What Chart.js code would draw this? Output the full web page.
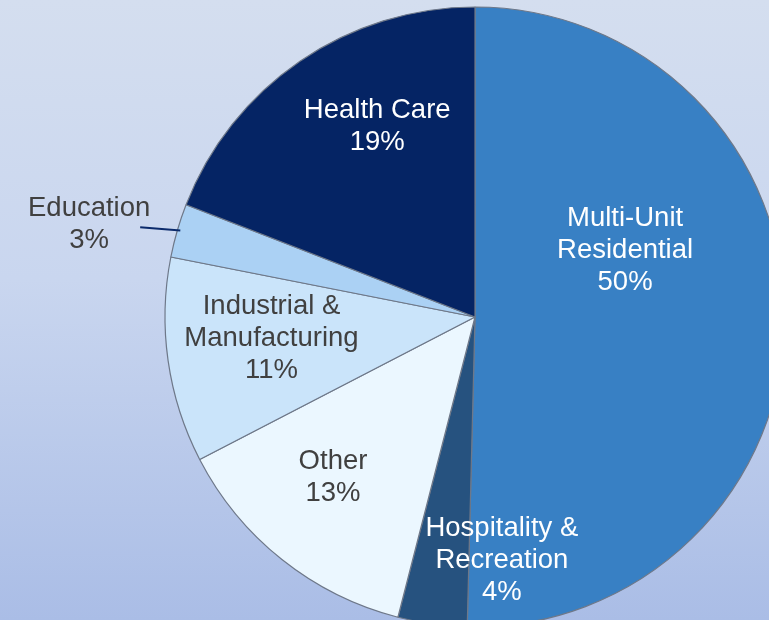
<!DOCTYPE html>
<html>
<head>
<meta charset="utf-8">
<script src="https://cdn.jsdelivr.net/npm/chart.js@4/dist/chart.umd.min.js"></script>
<style>
  html, body {
    margin: 0;
    width: 769px;
    height: 620px;
    overflow: hidden;
    background: linear-gradient(to bottom, #d4deef 0%, #c9d6ef 45%, #aabde6 100%);
  }
  #wrap {
    position: absolute;
    left: 0;
    top: 0;
    width: 950px;
    height: 634px;
  }
</style>
</head>
<body>
<div id="wrap"><canvas id="pie-chart" width="950" height="634"></canvas></div>
<script>
  const sectors = [
    ["Multi-Unit", "Residential"],
    ["Hospitality &", "Recreation"],
    ["Other"],
    ["Industrial &", "Manufacturing"],
    ["Education"],
    ["Health Care"],
  ];
  const shares = [50.4, 3.6, 13.4, 10.7, 2.8, 19.1];

  const sliceColors = ["#3880c4", "#26527f", "#ebf7ff", "#cae4fa", "#abd1f4", "#052464"];
  const textColors = ["#ffffff", "#ffffff", "#404040", "#404040", "#404040", "#ffffff"];
  // label block centre: angle (deg, clockwise from top) and radius as fraction of the pie radius
  const labelSpots = [
    { deg: 66, r: 0.53 },
    { deg: 173.7, r: 0.79 },
    { deg: 221.6, r: 0.69 },
    { deg: 264.1, r: 0.66 },
    { deg: 283.5, r: 1.28 },
    { deg: 332.8, r: 0.69 },
  ];

  const sliceLabels = {
    id: "sliceLabels",
    afterDatasetsDraw(chart) {
      const c = chart.ctx;
      const meta = chart.getDatasetMeta(0);
      const lineH = 32;
      c.save();
      c.font = "27.5px \"Liberation Sans\", Helvetica, Arial, sans-serif";
      c.textAlign = "center";
      c.textBaseline = "middle";
      meta.data.forEach((arc, i) => {
        const { x, y, outerRadius, startAngle, endAngle } = arc.getProps(
          ["x", "y", "outerRadius", "startAngle", "endAngle"], true);
        const spot = labelSpots[i];
        const a = (spot.deg * Math.PI) / 180;
        const lx = x + outerRadius * spot.r * Math.sin(a);
        const ly = y - outerRadius * spot.r * Math.cos(a);
        const lines = sectors[i].concat([Math.round(shares[i]) + "%"]);

        if (spot.r > 1) {
          // leader line from the slice edge toward the outside label
          const mid = (startAngle + endAngle) / 2;
          const ex = x + outerRadius * Math.cos(mid);
          const ey = y + outerRadius * Math.sin(mid);
          c.strokeStyle = "#0b2a6b";
          c.lineWidth = 2;
          c.beginPath();
          c.moveTo(ex + 3, ey);
          c.lineTo(lx + 51, ly + 3);
          c.stroke();
        }

        c.fillStyle = textColors[i];
        const top = ly - ((lines.length - 1) * lineH) / 2;
        lines.forEach((t, k) => c.fillText(t, lx, top + k * lineH));
      });
      c.restore();
    },
  };

  const ctx = document.getElementById("pie-chart").getContext("2d");
  new Chart(ctx, {
    type: "pie",
    data: {
      labels: sectors.map((s) => s.join(" ")),
      datasets: [
        {
          data: shares,
          backgroundColor: sliceColors,
          borderColor: "#6e7889",
          borderWidth: 1.2,
        },
      ],
    },
    options: {
      responsive: false,
      animation: false,
      radius: 310,
      layout: { padding: 0 },
      plugins: {
        legend: { display: false },
        tooltip: { enabled: false },
      },
    },
    plugins: [sliceLabels],
  });
</script>
</body>
</html>
